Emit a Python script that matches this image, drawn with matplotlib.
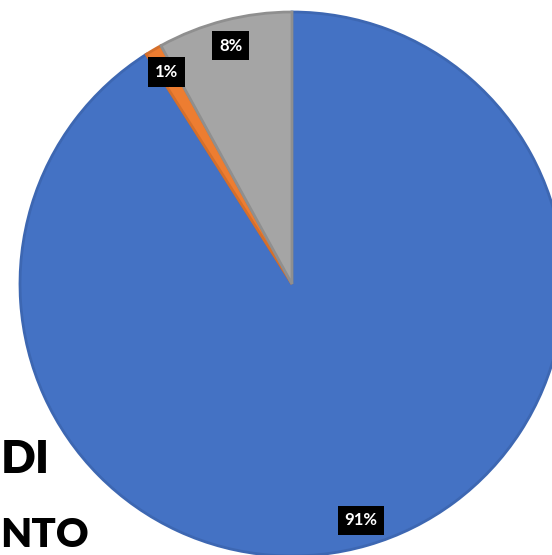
import matplotlib
matplotlib.use("Agg")
import matplotlib.pyplot as plt

# Payment share by category (clockwise from 12 o'clock)
categories = ["A", "B", "C"]
shares = [91, 1, 8]
colors = ["#4472C4", "#ED7D31", "#A5A5A5"]
edge_colors = ["#3D67B2", "#D56F2B", "#8F8F8F"]
title_lines = ["DI", "NTO"]

W, H = 552, 555
fig = plt.figure(figsize=(W / 100, H / 100), dpi=100)
ax = fig.add_axes([0, 0, 1, 1])

wedges, texts, autotexts = ax.pie(
    shares,
    colors=colors,
    startangle=90,
    counterclock=False,
    center=(292, H - 284),
    radius=272,
    autopct=lambda p: f"{p:.0f}%",
    pctdistance=0.905,
    wedgeprops=dict(linewidth=2.0),
    textprops=dict(color="white", fontsize=12, fontweight="bold", family="Lato"),
)
for w, ec in zip(wedges, edge_colors):
    w.set_edgecolor(ec)
for t in autotexts:
    t.set_bbox(dict(facecolor="black", edgecolor="none", boxstyle="square,pad=0.4"))

# Partial title text at the left edge
ax.text(50, H - 473, title_lines[0], ha="right", va="baseline",
        fontsize=33, fontweight="heavy", family="Lato", color="black")
ax.text(0, H - 547, title_lines[1], ha="left", va="baseline",
        fontsize=29, fontweight="heavy", family="Lato", color="black")

ax.set_xlim(0, W)
ax.set_ylim(0, H)
ax.set_aspect("equal")
ax.axis("off")

fig.savefig("out.png", dpi=100, facecolor="white")
